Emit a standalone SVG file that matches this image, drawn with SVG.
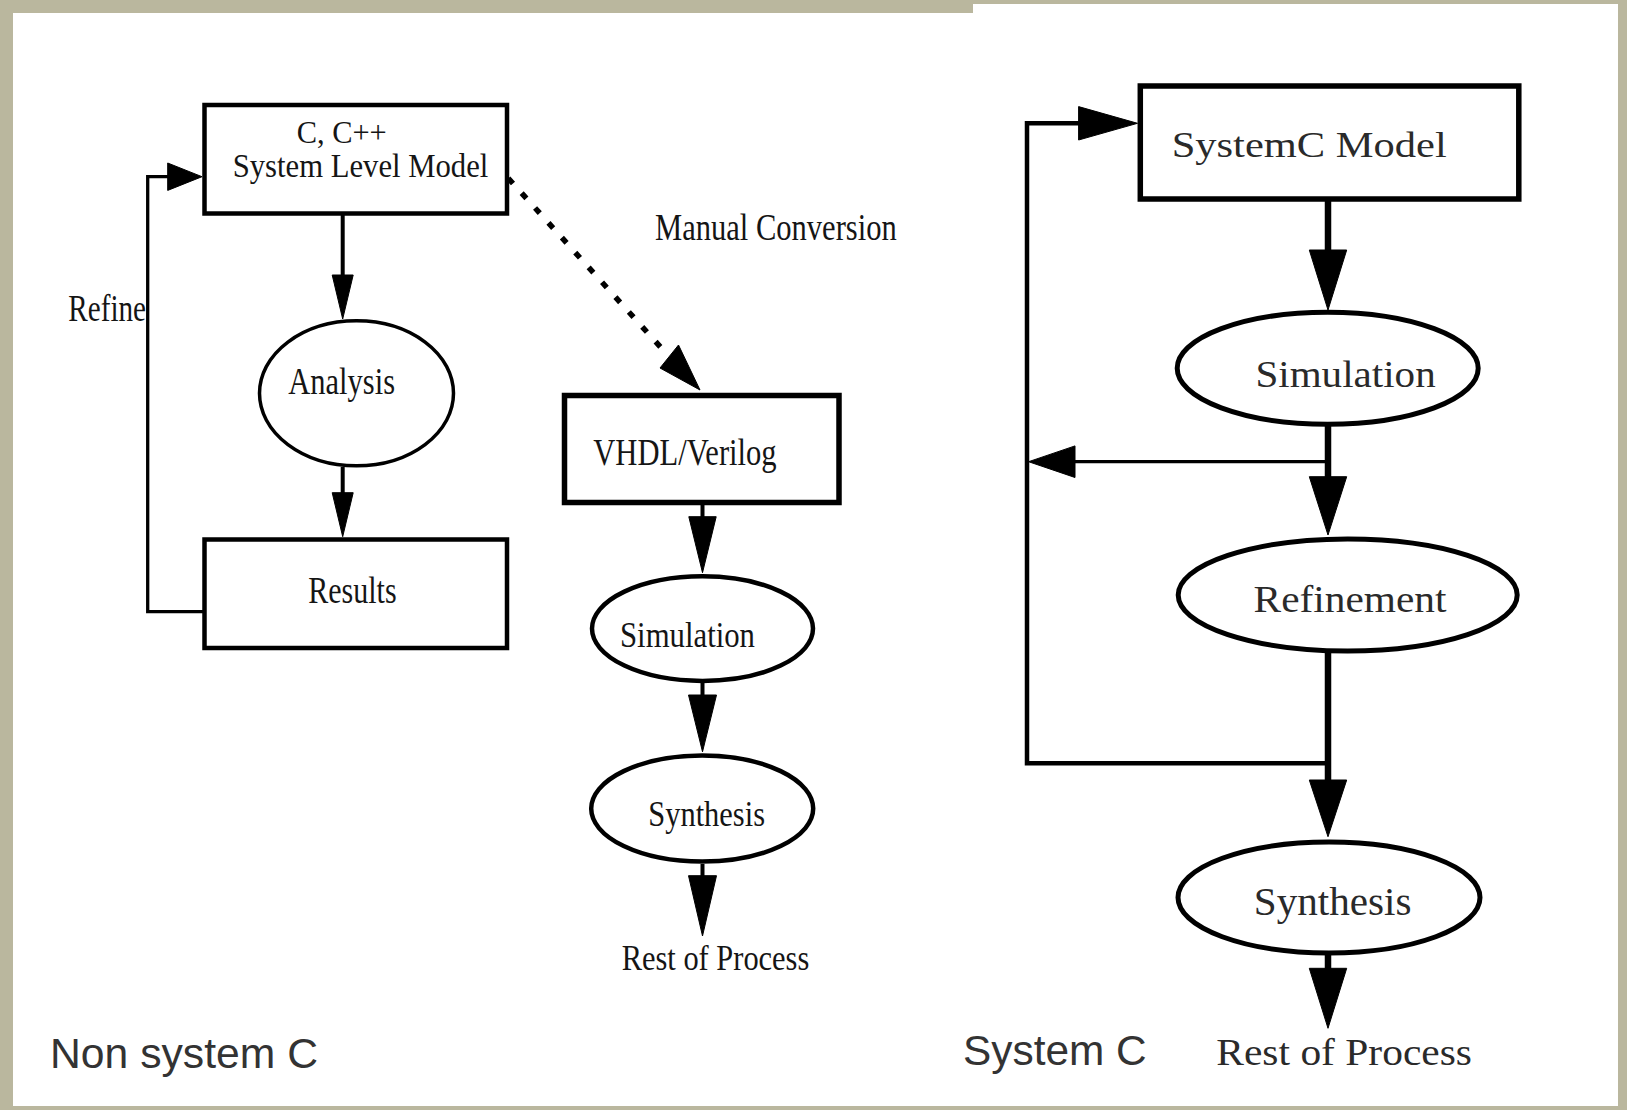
<svg xmlns="http://www.w3.org/2000/svg" width="1627" height="1110" viewBox="0 0 1627 1110">
<style>
.bg{fill:#bab79e}
.panel{fill:#ffffff}
.box{fill:#ffffff;stroke:#000;stroke-width:4.5}
.boxT{fill:#ffffff;stroke:#000;stroke-width:5.5}
.ell{fill:#ffffff;stroke:#000;stroke-width:4.5}
.ellT{fill:#ffffff;stroke:#000;stroke-width:3.5}
.ln{fill:none;stroke:#000;stroke-width:4}
.lnT{fill:none;stroke:#000;stroke-width:6.5}
.lnThin{fill:none;stroke:#000;stroke-width:3.3}
.dot{fill:none;stroke:#000;stroke-width:5.5;stroke-dasharray:7 13}
.ah{fill:#000;stroke:#000;stroke-width:1}
.t{font-family:"Liberation Serif","Times New Roman",serif;fill:#151515}
.tr{font-family:"Liberation Serif","Times New Roman",serif;fill:#2a2a2a}
.cap{font-family:"Liberation Sans",Arial,sans-serif;fill:#333;font-size:42.5px}
</style>
<rect class="bg" x="0" y="0" width="1627" height="1110"/>
<rect class="panel" x="13" y="13" width="962" height="1093"/>
<rect class="panel" x="973" y="4" width="645" height="1102"/>

<g id="connectors">
  <!-- left: model -> analysis -->
  <line class="ln" x1="342.7" y1="215" x2="342.7" y2="300"/>
  <polygon class="ah" points="332.2,275 353.2,275 342.7,319"/>
  <!-- analysis -> results -->
  <line class="ln" x1="342.7" y1="467" x2="342.7" y2="510"/>
  <polygon class="ah" points="332.2,492.7 353.2,492.7 342.7,536.7"/>
  <!-- refine loop -->
  <polyline class="lnThin" points="203,611.7 147.7,611.7 147.7,176.7 185,176.7"/>
  <polygon class="ah" points="167.7,163 167.7,190.4 202,176.7"/>
  <!-- manual conversion dotted -->
  <line class="dot" x1="508.3" y1="178.3" x2="669" y2="356.5"/>
  <polygon class="ah" points="660,368 678.5,345 700,390"/>
  <!-- VHDL -> simulation -->
  <line class="ln" x1="702.5" y1="505" x2="702.5" y2="550"/>
  <polygon class="ah" points="688.8,516.7 716.2,516.7 702.5,572.7"/>
  <!-- simulation -> synthesis -->
  <line class="ln" x1="702.5" y1="683" x2="702.5" y2="720"/>
  <polygon class="ah" points="688.5,695 716.5,695 702.5,751.8"/>
  <!-- synthesis -> rest -->
  <line class="ln" x1="702.5" y1="864" x2="702.5" y2="900"/>
  <polygon class="ah" points="688.5,875.7 716.5,875.7 702.5,936"/>

  <!-- right: systemC -> simulation -->
  <line class="lnT" x1="1328" y1="201" x2="1328" y2="280"/>
  <polygon class="ah" points="1309.3,250 1346.7,250 1328,310"/>
  <!-- simulation -> refinement -->
  <line class="lnT" x1="1328" y1="426" x2="1328" y2="505"/>
  <polygon class="ah" points="1309.3,476.7 1346.7,476.7 1328,535"/>
  <!-- feedback to loop -->
  <line class="lnThin" x1="1328" y1="461.7" x2="1050" y2="461.7"/>
  <polygon class="ah" points="1075,445.9 1075,477.5 1028.6,461.7"/>
  <!-- refinement -> synthesis -->
  <line class="lnT" x1="1328" y1="653" x2="1328" y2="810"/>
  <polygon class="ah" points="1309.3,780 1346.7,780 1328,836.7"/>
  <!-- loop back to SystemC model -->
  <polyline class="ln" points="1328,763.3 1027,763.3 1027,123.3 1100,123.3" style="stroke-width:4.5"/>
  <polygon class="ah" points="1078.6,106.6 1078.6,140 1137.5,123.3"/>
  <!-- synthesis -> rest -->
  <line class="lnT" x1="1328" y1="955" x2="1328" y2="1000"/>
  <polygon class="ah" points="1309.3,968.3 1346.7,968.3 1328,1028.3"/>
</g>

<g id="node-model">
  <rect class="box" x="204.5" y="105" width="302.5" height="108.5"/>
  <text class="t" x="296.7" y="142.7" font-size="31" textLength="90" lengthAdjust="spacingAndGlyphs">C, C++</text>
  <text class="t" x="232.7" y="176.7" font-size="33" textLength="255.6" lengthAdjust="spacingAndGlyphs">System Level Model</text>
</g>
<g id="label-refine">
  <text class="t" x="68.3" y="320.7" font-size="37" textLength="77.7" lengthAdjust="spacingAndGlyphs">Refine</text>
</g>
<g id="node-analysis">
  <ellipse class="ellT" cx="356.5" cy="393.3" rx="97" ry="72.5"/>
  <text class="t" x="288.3" y="394" font-size="37" textLength="106.7" lengthAdjust="spacingAndGlyphs">Analysis</text>
</g>
<g id="node-results">
  <rect class="box" x="204.5" y="539.5" width="302.5" height="108.5"/>
  <text class="t" x="308.3" y="602.7" font-size="37" textLength="88.3" lengthAdjust="spacingAndGlyphs">Results</text>
</g>
<g id="label-manual">
  <text class="t" x="655" y="240" font-size="37" textLength="241.7" lengthAdjust="spacingAndGlyphs">Manual Conversion</text>
</g>
<g id="node-vhdl">
  <rect class="boxT" x="564.5" y="395.5" width="274.5" height="107"/>
  <text class="t" x="593.3" y="465" font-size="37" textLength="183.3" lengthAdjust="spacingAndGlyphs">VHDL/Verilog</text>
</g>
<g id="node-sim-left">
  <ellipse class="ell" cx="702.5" cy="628.6" rx="110.5" ry="52.3"/>
  <text class="t" x="620" y="646.7" font-size="36" textLength="135" lengthAdjust="spacingAndGlyphs">Simulation</text>
</g>
<g id="node-syn-left">
  <ellipse class="ell" cx="702.2" cy="808.6" rx="111" ry="53"/>
  <text class="t" x="648.3" y="825.8" font-size="36" textLength="116.7" lengthAdjust="spacingAndGlyphs">Synthesis</text>
</g>
<g id="node-rest-left">
  <text class="t" x="621.7" y="970.4" font-size="36" textLength="187.6" lengthAdjust="spacingAndGlyphs">Rest of Process</text>
</g>

<g id="node-systemc">
  <rect class="boxT" x="1140.3" y="86" width="378.5" height="113"/>
  <text class="tr" x="1171.7" y="157" font-size="36" textLength="275" lengthAdjust="spacingAndGlyphs">SystemC Model</text>
</g>
<g id="node-sim-right">
  <ellipse class="ell" cx="1327.7" cy="368.3" rx="150.5" ry="56" style="stroke-width:5"/>
  <text class="tr" x="1255.4" y="386.7" font-size="38" textLength="180.3" lengthAdjust="spacingAndGlyphs">Simulation</text>
</g>
<g id="node-refinement">
  <ellipse class="ell" cx="1347.7" cy="595" rx="169.5" ry="56" style="stroke-width:5"/>
  <text class="tr" x="1253.6" y="611.7" font-size="38" textLength="192.8" lengthAdjust="spacingAndGlyphs">Refinement</text>
</g>
<g id="node-syn-right">
  <ellipse class="ell" cx="1329" cy="897.5" rx="151" ry="55.5" style="stroke-width:5"/>
  <text class="tr" x="1253.8" y="915" font-size="39" textLength="157.7" lengthAdjust="spacingAndGlyphs">Synthesis</text>
</g>
<g id="node-rest-right">
  <text class="tr" x="1216.3" y="1065" font-size="38" textLength="255.7" lengthAdjust="spacingAndGlyphs">Rest of Process</text>
</g>

<g id="captions">
  <text class="cap" x="50" y="1068.3" textLength="268" lengthAdjust="spacingAndGlyphs">Non system C</text>
  <text class="cap" x="963" y="1065" textLength="183.7" lengthAdjust="spacingAndGlyphs">System C</text>
</g>
</svg>
